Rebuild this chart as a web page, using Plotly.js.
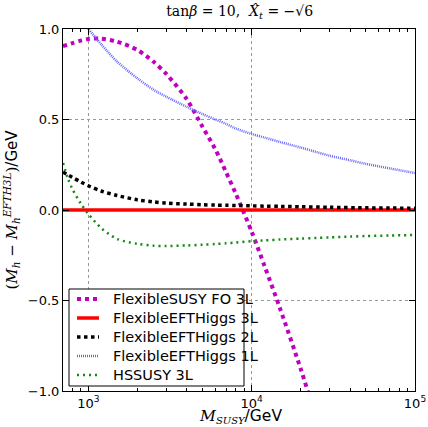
<!DOCTYPE html>
<html><head><meta charset="utf-8">
<script src="https://cdn.plot.ly/plotly-3.0.1.min.js"></script>
<style>html,body{margin:0;padding:0;background:#fff}#chart{width:428px;height:427px}</style>
</head><body><div id="chart"></div>
<script>
// M_SUSY in GeV
const xFO   = [700,800,900,1000,1200,1500,2000,2500,3000,4000,5000,6000,7000,8000,10000,12000,15000,20000,25000];
const yFO   = [0.905,0.922,0.936,0.945,0.947,0.93,0.884,0.82,0.752,0.613,0.46,0.335,0.205,0.09,-0.12,-0.31,-0.55,-0.88,-1.16];

const xEFT3 = [700,100000];
const yEFT3 = [0.0,0.0];

const xEFT2 = [700,800,900,1000,1200,1500,2000,2500,3000,4000,5000,6000,7000,8000,10000,12000,15000,20000,30000,50000,70000,100000];
const yEFT2 = [0.21,0.18,0.155,0.134,0.105,0.08,0.056,0.045,0.038,0.033,0.029,0.027,0.026,0.025,0.023,0.021,0.02,0.018,0.015,0.012,0.011,0.009];

const xEFT1 = [700,800,900,1000,1200,1500,2000,2500,3000,4000,5000,6000,7000,8000,10000,12000,15000,20000,25000,30000,40000,50000,70000,100000];
const yEFT1 = [1.15,1.09,1.04,1.0,0.915,0.82,0.727,0.665,0.626,0.57,0.53,0.50,0.475,0.45,0.42,0.40,0.375,0.345,0.32,0.30,0.275,0.255,0.23,0.204];

const xHS   = [700,750,800,900,1000,1200,1500,2000,2500,3000,4000,5000,6000,7000,8000,10000,12000,15000,20000,25000,30000,40000,50000,70000,100000];
const yHS   = [0.26,0.175,0.115,0.035,-0.022,-0.1,-0.16,-0.187,-0.197,-0.199,-0.196,-0.192,-0.188,-0.184,-0.18,-0.172,-0.168,-0.163,-0.158,-0.154,-0.151,-0.147,-0.144,-0.141,-0.138];

const names = ['FlexibleSUSY FO 3L','FlexibleEFTHiggs 3L','FlexibleEFTHiggs 2L','FlexibleEFTHiggs 1L','HSSUSY 3L'];
const yTickVals = [-1.0,-0.5,0.0,0.5,1.0];
const yTickText = ['\u22121.0','\u22120.5','0.0','0.5','1.0'];
const xTickVals = [1000,10000,100000];
const xTickText = ['10<sup>3</sup>','10<sup>4</sup>','10<sup>5</sup>'];

const lineStyles = [
  {color:'#bf00bf', width:4, dash:'dot'},
  {color:'#ff0000', width:3.5, dash:'solid'},
  {color:'#000000', width:3.5, dash:'dot'},
  {color:'#6666ff', width:2.5, dash:'1px,1px'},
  {color:'#138a13', width:2.5, dash:'2px,4px'}
];
const xs = [xFO, xEFT3, xEFT2, xEFT1, xHS];
const ys = [yFO, yEFT3, yEFT2, yEFT1, yHS];

const traces = xs.map((x, i) => ({
  x: x, y: ys[i], name: names[i], mode: 'lines', showlegend: false,
  line: Object.assign({}, lineStyles[i], i === 1 ? {} : {shape:'spline', smoothing:0.8})
}));

// legend box drawn in paper coordinates (plot area: 63..415 px wide, 29..391 px tall)
const W = 428, H = 427, ML = 63, MR = 13, MT = 29, MB = 36;
const pw = W - ML - MR, ph = H - MT - MB;
const px = p => (p - ML) / pw;
const py = p => (H - MB - p) / ph;
const shapes = [{type:'rect', xref:'paper', yref:'paper', x0:px(69), x1:px(244), y0:py(386), y1:py(289),
  fillcolor:'#fff', line:{color:'#000', width:1}, layer:'above'}];
const annotations = [];
names.forEach((n, i) => {
  const yc = 299 + i * 19;
  const ls = lineStyles[i];
  shapes.push({type:'line', xref:'paper', yref:'paper', x0:px(77), x1:px(99), y0:py(yc), y1:py(yc),
    line:{color:ls.color, width:ls.width, dash:ls.dash}, layer:'above'});
  annotations.push({xref:'paper', yref:'paper', x:px(111), y:py(yc), xanchor:'left', yanchor:'middle',
    text:n, showarrow:false, font:{family:'DejaVu Sans', size:14.5, color:'#000'}});
});
// x-axis title
annotations.push({xref:'paper', yref:'paper', x:px(240), y:py(427), xanchor:'center', yanchor:'bottom', showarrow:false,
  text:'<span style="font-family:DejaVu Serif"><i>M</i><sub><i><span style="font-size:10px">SUSY</span></i></sub></span>/GeV',
  font:{family:'DejaVu Sans', size:15.5, color:'#000'}, borderpad:0});

const axisCommon = {
  showline:true, linecolor:'#000', linewidth:1, mirror:'allticks',
  ticks:'inside', ticklen:6, tickcolor:'#000', tickwidth:1,
  showgrid:true, gridcolor:'#999', griddash:'dot', gridwidth:1,
  zeroline:false, tickfont:{family:'DejaVu Sans', size:13, color:'#000'}
};

const layout = {
  width:W, height:H,
  margin:{l:ML, r:MR, t:MT, b:MB},
  paper_bgcolor:'#fff', plot_bgcolor:'#fff',
  showlegend:false,
  shapes: shapes, annotations: annotations,
  title:{text:'tan<i>β</i> = 10,  <i>X̂</i><sub><i>t</i></sub> = −√6', font:{family:'DejaVu Serif', size:14, color:'#000'}, x:0.56, xanchor:'center', y:0.985, yanchor:'top'},
  xaxis:Object.assign({}, axisCommon, {
    type:'log', range:[Math.log10(700), 5],
    tickvals:xTickVals, ticktext:xTickText,
    minor:{ticks:'inside', ticklen:3, tickcolor:'#000', showgrid:false, dtick:'D1'},
    automargin:false
  }),
  yaxis:Object.assign({}, axisCommon, {
    range:[-1.0, 1.0], tickvals:yTickVals, ticktext:yTickText,
    title:{text:'<span style="font-family:DejaVu Serif">(<i>M</i><sub><i>h</i></sub> − <i>M</i><sub><i>h</i></sub><sup><i>EFTH3L</i></sup>)</span>/GeV', font:{family:'DejaVu Sans', size:15, color:'#000'}, standoff:6},
    automargin:false
  })
};

Plotly.newPlot('chart', traces, layout, {staticPlot:true, displayModeBar:false});
</script>
</body></html>
